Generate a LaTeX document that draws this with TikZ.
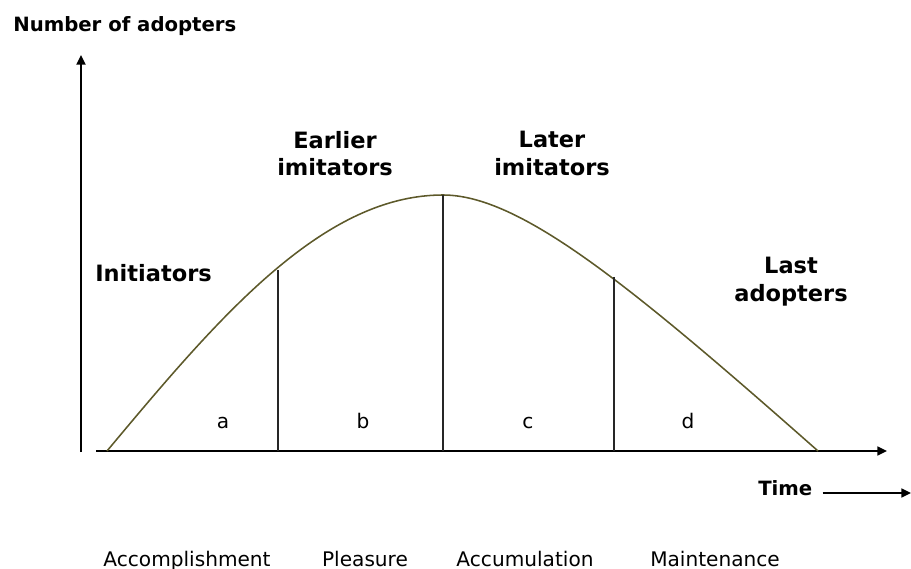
\documentclass[tikz,border=0pt]{standalone}
\usepackage{fontspec}
\setmainfont{DejaVu Sans}
\usetikzlibrary{arrows.meta}

\begin{document}
\begin{tikzpicture}[
  x=0.025cm, y=-0.025cm,
  font=\fontsize{14.3}{17}\selectfont,
  lbl/.style   = {inner sep=0pt},
  ttl/.style   = {inner sep=0pt, align=center, font=\fontsize{16}{19.5}\selectfont\bfseries},
  ax/.style    = {draw, line width=1.5pt, -{Triangle[length=2.4mm, width=2.2mm]}},
  curve/.style = {draw=olive!55!black, line width=1.1pt},
  sep/.style   = {draw=black!85, line width=1.1pt},
]
\useasboundingbox (0,0) rectangle (911,569);

% =============== axes ===============
\def\xL{81} \def\yB{451}
\coordinate (o)    at (\xL,452);
\coordinate (ytip) at (\xL,55);
\coordinate (x0)   at (96,\yB);
\coordinate (xtip) at (887,\yB);
\draw[ax, line width=2pt] (o) -- (ytip);
\draw[ax] (x0) -- (xtip);

\node[lbl, anchor=base west, font=\fontsize{14}{17}\selectfont\bfseries] (ylab) at (13,32) {Number of adopters};
\node[lbl, anchor=base west, font=\fontsize{14}{17}\selectfont\bfseries] (time) at (758,495) {Time};
\coordinate (tend) at (911,493);
\draw[ax, line width=1.4pt] (time.east |- tend) ++(10,0) coordinate (tstart) -- (tend);

% =============== adoption curve ===============
\coordinate (peak) at (443,195);
\draw[curve] plot[domain=107:443, samples=80] (\x, {451-256*cos((443-\x)*0.26786)})
  .. controls (520,195) and (630,285) .. (818,451);

% stage dividers
\foreach \n/\p/\q in {ab/278/270, bc/443/195, cd/614/277} {
  \coordinate (t\n) at (\p,\q);
  \coordinate (f\n) at (\p,\yB);
  \draw[sep] (t\n) -- (f\n);
}

% stage letters
\foreach \n/\p/\t in {sa/223/a, sb/363/b, sc/528/c, sd/688/d}
  \node[lbl, anchor=base] (\n) at (\p,428) {\t};

% adopter groups
\node[ttl, anchor=base west] (init)  at (95,282)  {Initiators};
\node[ttl, anchor=north]     (early) at (335,131) {Earlier\\imitators};
\node[ttl, anchor=north]     (later) at (552,131) {Later\\imitators};
\node[ttl, anchor=north]     (last)  at (791,257) {Last\\adopters};

% phases
\foreach \n/\p/\t in {acc/187/Accomplishment, ple/365/Pleasure, acu/525/Accumulation, mai/715/Maintenance}
  \node[lbl, anchor=base] (\n) at (\p,566) {\t};

\end{tikzpicture}
\end{document}
